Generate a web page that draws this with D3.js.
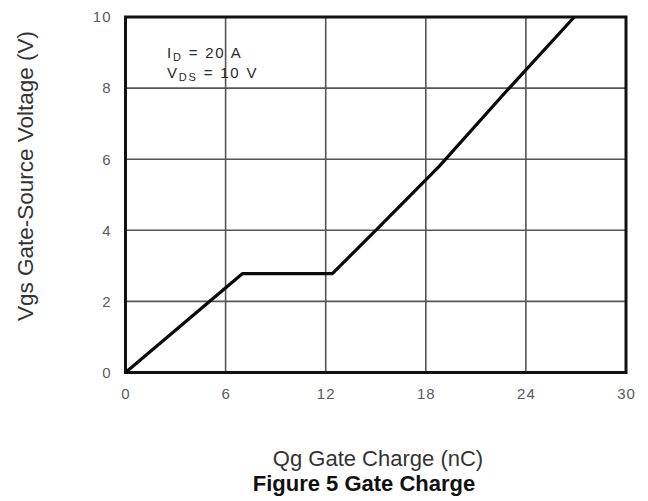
<!DOCTYPE html>
<html>
<head>
<meta charset="utf-8">
<script src="https://cdn.jsdelivr.net/npm/d3@7"></script>
<style>
  html, body { margin: 0; padding: 0; background: #fff; }
  svg { display: block; }
</style>
</head>
<body>
<svg id="chart" width="648" height="501"></svg>
<script>
// Gate charge curve: Qg (nC) vs Vgs (V)
const chargeNC = [0, 7.0, 12.4, 15.0, 18.8, 23.0, 26.9];
const vgsV     = [0, 2.78, 2.78, 4.0, 5.8, 8.0, 10.0];
const xTicks = [0, 6, 12, 18, 24, 30];
const yTicks = [0, 2, 4, 6, 8, 10];

const svg = d3.select("#chart");
const plot = { left: 125.5, right: 626, top: 17, bottom: 372.5 };

const x = d3.scaleLinear().domain([0, 30]).range([plot.left, plot.right]);
const y = d3.scaleLinear().domain([0, 10]).range([plot.bottom, plot.top]);

const font = "'Liberation Sans', Arial, sans-serif";

// grid lines
const grid = svg.append("g").attr("stroke", "#555").attr("stroke-width", 1.6);
grid.selectAll("line.v").data(xTicks.slice(1, -1)).join("line")
  .attr("x1", d => x(d)).attr("x2", d => x(d))
  .attr("y1", plot.top).attr("y2", plot.bottom);
grid.selectAll("line.h").data(yTicks.slice(1, -1)).join("line")
  .attr("y1", d => y(d)).attr("y2", d => y(d))
  .attr("x1", plot.left).attr("x2", plot.right);

// frame
svg.append("rect")
  .attr("x", plot.left).attr("y", plot.top)
  .attr("width", plot.right - plot.left).attr("height", plot.bottom - plot.top)
  .attr("fill", "none").attr("stroke", "#111").attr("stroke-width", 3);

// axes (labels only; the frame draws the lines)
const xAxis = d3.axisBottom(x).tickValues(xTicks).tickSize(0).tickPadding(16);
const gx = svg.append("g").attr("transform", `translate(0,${plot.bottom})`).call(xAxis);
const yAxis = d3.axisLeft(y).tickValues(yTicks).tickSize(0).tickPadding(14);
const gy = svg.append("g").attr("transform", `translate(${plot.left},0)`).call(yAxis);
[gx, gy].forEach(g => {
  g.select(".domain").remove();
  g.selectAll("text").attr("fill", "#5a5a5a").style("font-family", font)
    .style("font-size", "15px").style("letter-spacing", "1px");
});

// curve
const pts = chargeNC.map((q, i) => [q, vgsV[i]]);
svg.append("path")
  .datum(pts)
  .attr("fill", "none").attr("stroke", "#0a0a0a").attr("stroke-width", 3.2)
  .attr("stroke-linejoin", "round")
  .attr("d", d3.line().x(d => x(d[0])).y(d => y(d[1])));

// test conditions
const note = svg.append("g").style("font-family", font).attr("fill", "#2a2a2a")
  .style("font-size", "15px").style("letter-spacing", "1.8px");
const t1 = note.append("text").attr("x", 167).attr("y", 58);
t1.append("tspan").text("I");
t1.append("tspan").attr("dy", 3).style("font-size", "11px").text("D");
t1.append("tspan").attr("dy", -3).text(" = 20 A");
const t2 = note.append("text").attr("x", 167).attr("y", 78);
t2.append("tspan").text("V");
t2.append("tspan").attr("dy", 3).style("font-size", "11px").text("DS");
t2.append("tspan").attr("dy", -3).text(" = 10 V");

// axis titles
svg.append("text")
  .attr("transform", `translate(33,176) rotate(-90)`)
  .attr("text-anchor", "middle")
  .style("font-family", font).style("font-size", "22.5px").attr("fill", "#333")
  .text("Vgs Gate-Source Voltage (V)");

svg.append("text")
  .attr("x", 378).attr("y", 466)
  .attr("text-anchor", "middle")
  .style("font-family", font).style("font-size", "22px").attr("fill", "#333")
  .text("Qg Gate Charge (nC)");

svg.append("text")
  .attr("x", 364).attr("y", 491)
  .attr("text-anchor", "middle")
  .style("font-family", font).style("font-size", "22px").style("font-weight", "bold").attr("fill", "#111")
  .text("Figure 5 Gate Charge");
</script>
</body>
</html>
